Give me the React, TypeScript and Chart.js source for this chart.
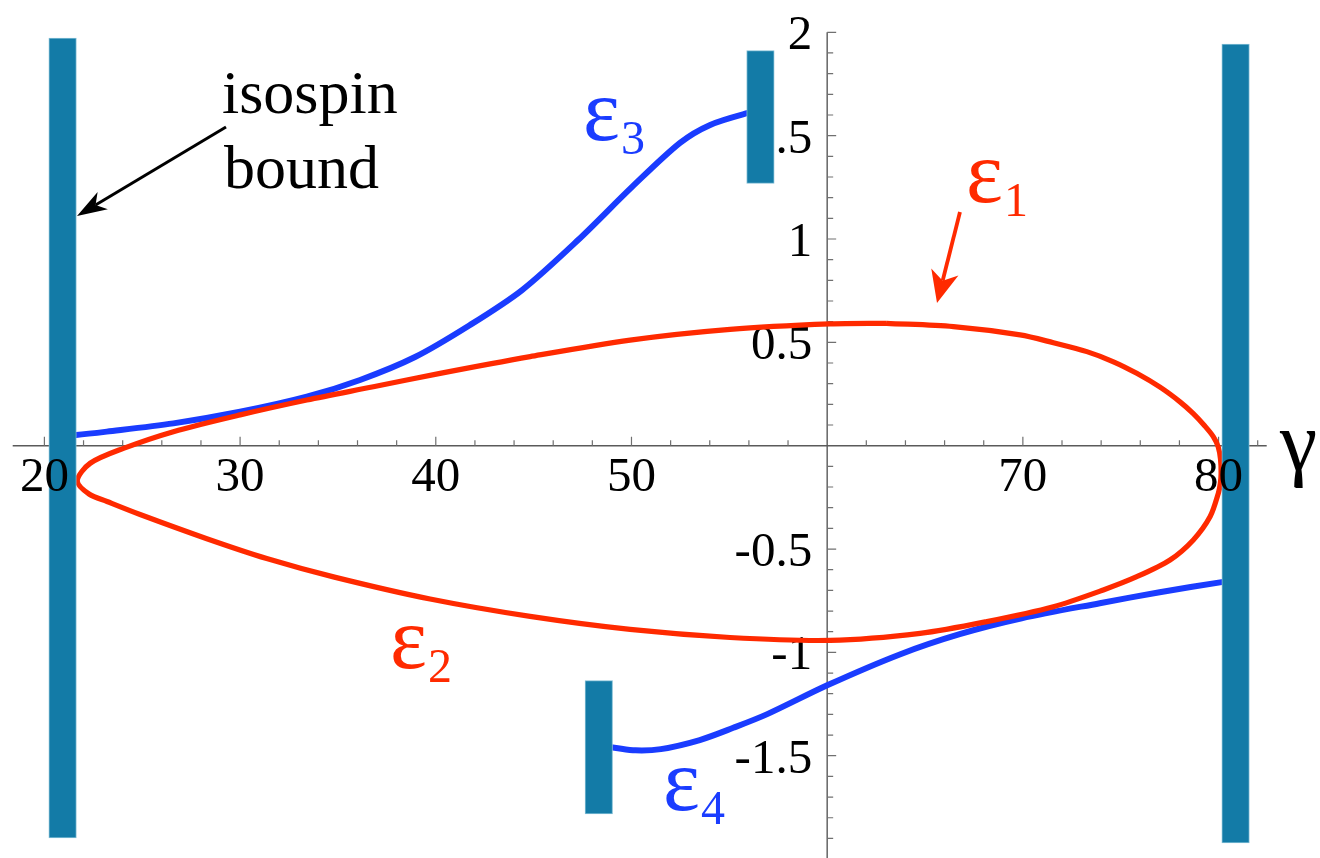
import React, { useEffect, useRef } from 'react';
import { Chart, registerables } from 'chart.js';

Chart.register(...registerables);

// ε1: upper branch of the closed solution, from the left turning point to the right one
const eps1Gamma = [21.68, 22.34, 24.04, 26.59, 30.0, 33.41, 36.81, 40.22, 44.82, 49.93, 55.04, 60.15, 63.05, 66.45, 69.86, 71.56, 73.27, 74.63, 75.82, 77.01, 78.03, 78.71, 79.3, 79.73, 79.98, 80.1, 80.13];
const eps1Value = [-0.17, -0.085, -0.013, 0.068, 0.149, 0.221, 0.285, 0.35, 0.431, 0.511, 0.563, 0.589, 0.592, 0.576, 0.536, 0.498, 0.455, 0.406, 0.35, 0.283, 0.212, 0.155, 0.095, 0.044, -0.005, -0.065, -0.134];

// ε2: lower branch, same two turning points
const eps2Gamma = [21.68, 22.3, 23.2, 24.89, 28.3, 31.36, 34.82, 39.71, 44.82, 49.93, 55.04, 60.15, 64.75, 68.16, 71.56, 74.11, 75.82, 77.52, 78.71, 79.57, 79.99, 80.09, 80.13];
const eps2Value = [-0.17, -0.235, -0.27, -0.333, -0.45, -0.546, -0.636, -0.742, -0.826, -0.889, -0.928, -0.942, -0.908, -0.851, -0.779, -0.698, -0.634, -0.553, -0.456, -0.343, -0.23, -0.182, -0.134];

// ε3: rises from the isospin bound to the upper end bar
const eps3Gamma = [20.93, 21.62, 23.19, 26.59, 30.0, 33.41, 36.13, 38.94, 41.75, 44.41, 47.27, 50.03, 52.48, 54.02, 55.96, 56.59];
const eps3Value = [0.05, 0.052, 0.068, 0.108, 0.164, 0.237, 0.318, 0.429, 0.584, 0.753, 0.995, 1.252, 1.465, 1.552, 1.61, 1.62];

// ε4: from the lower end bar to the right isospin bound
const eps4Gamma = [48.33, 49.04, 50.2, 51.5, 53.49, 55.2, 56.91, 60.03, 63.71, 66.77, 69.94, 73.93, 76.99, 80.16, 80.87];
const eps4Value = [-1.455, -1.46, -1.474, -1.468, -1.424, -1.365, -1.3, -1.158, -1.01, -0.912, -0.835, -0.762, -0.709, -0.66, -0.65];

// vertical bounds (γ position, lower and upper end)
const barGamma = [20.93, 56.59, 48.33, 80.87];
const barLow = [-1.898, 1.269, -1.782, -1.922];
const barHigh = [1.972, 1.911, -1.137, 1.943];

const xTickValues = [20, 30, 40, 50, 70, 80];
const xTickLabels = ['20', '30', '40', '50', '70', '80'];
const yTickValues = [2, 1.5, 1, 0.5, -0.5, -1, -1.5];
const yTickLabels = ['2', '1.5', '1', '0.5', '-0.5', '-1', '-1.5'];

const RED = '#ff2a00';
const BLUE = '#1a3cff';
const BAR = '#137ba7';
const SERIF = '"Liberation Serif", "DejaVu Serif", "Times New Roman", Times, serif';

function toPoints(xs: number[], ys: number[]) {
  return xs.map((x, i) => ({ x, y: ys[i] }));
}

// one closed path: starts at the top of ε1, runs around the right turn,
// back along ε2, around the left turn and up to the start again
function buildLoop() {
  const upper = toPoints(eps1Gamma, eps1Value);
  const lower = toPoints(eps2Gamma, eps2Value);
  let k = 0;
  eps1Value.forEach((v, i) => {
    if (v > eps1Value[k]) k = i;
  });
  return [...upper.slice(k), ...lower.slice(0, -1).reverse(), ...upper.slice(1, k + 1)];
}

function arrow(
  ctx: CanvasRenderingContext2D,
  x1: number, y1: number, x2: number, y2: number,
  color: string, width: number, headLen: number, headHalf: number
) {
  const a = Math.atan2(y2 - y1, x2 - x1);
  const c = Math.cos(a);
  const s = Math.sin(a);
  const bx = x2 - c * headLen;
  const by = y2 - s * headLen;
  const nx = x2 - c * headLen * 0.72;
  const ny = y2 - s * headLen * 0.72;
  ctx.save();
  ctx.strokeStyle = color;
  ctx.lineWidth = width;
  ctx.lineCap = 'butt';
  ctx.beginPath();
  ctx.moveTo(x1, y1);
  ctx.lineTo(nx, ny);
  ctx.stroke();
  ctx.fillStyle = color;
  ctx.beginPath();
  ctx.moveTo(x2, y2);
  ctx.lineTo(bx - s * headHalf, by + c * headHalf);
  ctx.lineTo(nx, ny);
  ctx.lineTo(bx + s * headHalf, by - c * headHalf);
  ctx.closePath();
  ctx.fill();
  ctx.restore();
}

function subscripted(
  ctx: CanvasRenderingContext2D,
  base: string, sub: string, x: number, y: number, color: string
) {
  ctx.save();
  ctx.fillStyle = color;
  ctx.textAlign = 'left';
  ctx.textBaseline = 'alphabetic';
  ctx.font = `88px ${SERIF}`;
  ctx.fillText(base, x, y);
  const w = ctx.measureText(base).width;
  ctx.font = `48px ${SERIF}`;
  ctx.fillText(sub, x + w + 1, y + 14);
  ctx.restore();
}

// axes crossing at γ = 60, value = 0, with ticks and labels
const crossedAxes = {
  id: 'crossedAxes',
  beforeDatasetsDraw(chart: any) {
    const { ctx, chartArea, scales } = chart;
    const xs = scales.x;
    const ys = scales.y;
    const y0 = ys.getPixelForValue(0);
    const x0 = xs.getPixelForValue(60);
    ctx.save();
    ctx.strokeStyle = '#5a5a5a';
    ctx.lineWidth = 1.4;
    ctx.beginPath();
    ctx.moveTo(chartArea.left, y0);
    ctx.lineTo(chartArea.right, y0);
    ctx.moveTo(x0, chartArea.top);
    ctx.lineTo(x0, chartArea.bottom + 4);
    ctx.stroke();

    ctx.strokeStyle = '#707070';
    ctx.lineWidth = 1.2;
    ctx.beginPath();
    for (let g = 20; g <= 82; g += 2) {
      if (g === 60) continue;
      const px = xs.getPixelForValue(g);
      const len = g % 10 === 0 ? 9 : 5.5;
      ctx.moveTo(px, y0);
      ctx.lineTo(px, y0 - len);
    }
    for (let i = -20; i <= 20; i++) {
      if (i === 0) continue;
      const py = ys.getPixelForValue(i / 10);
      const len = i % 5 === 0 ? 9 : 6;
      ctx.moveTo(x0, py);
      ctx.lineTo(x0 + len, py);
    }
    ctx.stroke();

    ctx.fillStyle = '#000';
    ctx.font = `49px ${SERIF}`;
    ctx.textAlign = 'right';
    ctx.textBaseline = 'alphabetic';
    yTickValues.forEach((v, i) => {
      ctx.fillText(yTickLabels[i], x0 - 15, ys.getPixelForValue(v) + 17);
    });
    ctx.restore();
  },
  afterDatasetsDraw(chart: any) {
    const { ctx, scales } = chart;
    const xs = scales.x;
    const ys = scales.y;
    const y0 = ys.getPixelForValue(0);
    ctx.save();
    ctx.fillStyle = '#000';
    ctx.font = `49px ${SERIF}`;
    ctx.textAlign = 'center';
    ctx.textBaseline = 'alphabetic';
    xTickValues.forEach((v, i) => {
      ctx.fillText(xTickLabels[i], xs.getPixelForValue(v), y0 + 45);
    });

    ctx.font = `84px ${SERIF}`;
    ctx.textAlign = 'left';
    ctx.fillText('γ', 1280, 470);

    ctx.font = `62px ${SERIF}`;
    ctx.fillText('isospin', 222, 113);
    ctx.fillText('bound', 224, 188);
    ctx.restore();

    arrow(ctx, 226, 127, 77, 216, '#000', 3, 30, 10);
    arrow(ctx, 960, 212, 937, 303, RED, 3.8, 32, 14);

    subscripted(ctx, 'ε', '3', 583, 140, BLUE);
    subscripted(ctx, 'ε', '1', 966, 202, RED);
    subscripted(ctx, 'ε', '2', 390, 668, RED);
    subscripted(ctx, 'ε', '4', 663, 810, BLUE);
  },
};

export default function App() {
  const canvasRef = useRef<HTMLCanvasElement | null>(null);

  useEffect(() => {
    const canvas = canvasRef.current;
    if (!canvas) return;
    const chart = new Chart(canvas, {
      type: 'line',
      data: {
        datasets: [
          {
            type: 'bar',
            label: 'bounds',
            data: barGamma.map((g, i) => ({ x: g, y: [barLow[i], barHigh[i]] })) as any,
            backgroundColor: BAR,
            borderColor: '#7fbcd4',
            borderWidth: 1,
            borderSkipped: false,
            barThickness: 27.5,
            order: 0,
            clip: false,
          } as any,
          {
            label: 'ε1, ε2',
            data: buildLoop(),
            borderColor: RED,
            borderWidth: 5.2,
            pointRadius: 0,
            tension: 0.3,
            fill: false,
            order: 1,
            clip: false,
          },
          {
            label: 'ε3',
            data: toPoints(eps3Gamma, eps3Value),
            borderColor: BLUE,
            borderWidth: 6,
            pointRadius: 0,
            tension: 0.3,
            fill: false,
            order: 2,
            clip: false,
          },
          {
            label: 'ε4',
            data: toPoints(eps4Gamma, eps4Value),
            borderColor: BLUE,
            borderWidth: 6,
            pointRadius: 0,
            tension: 0.3,
            fill: false,
            order: 2,
            clip: false,
          },
        ],
      },
      options: {
        responsive: false,
        devicePixelRatio: 1,
        animation: false,
        events: [],
        layout: {
          autoPadding: false,
          padding: { left: 12.7, right: 53.3, top: 32.3, bottom: 1 },
        },
        plugins: {
          legend: { display: false },
          tooltip: { enabled: false },
        },
        scales: {
          x: { type: 'linear', min: 18.38, max: 82.46, offset: false, display: false },
          y: { type: 'linear', min: -1.99, max: 2, display: false },
        },
      },
      plugins: [crossedAxes],
    });
    // redraw once the serif face is resolved
    let alive = true;
    if (document.fonts && document.fonts.load) {
      Promise.all([
        document.fonts.load('49px "Liberation Serif"'),
        document.fonts.load('49px "DejaVu Serif"'),
      ])
        .catch(() => null)
        .then(() => {
          if (alive) chart.draw();
        });
    }
    return () => {
      alive = false;
      chart.destroy();
    };
  }, []);

  return (
    <div style={{ position: 'absolute', left: 0, top: 0, width: 1320, height: 858, background: '#fff' }}>
      <canvas ref={canvasRef} width={1320} height={858} style={{ display: 'block' }} />
    </div>
  );
}
